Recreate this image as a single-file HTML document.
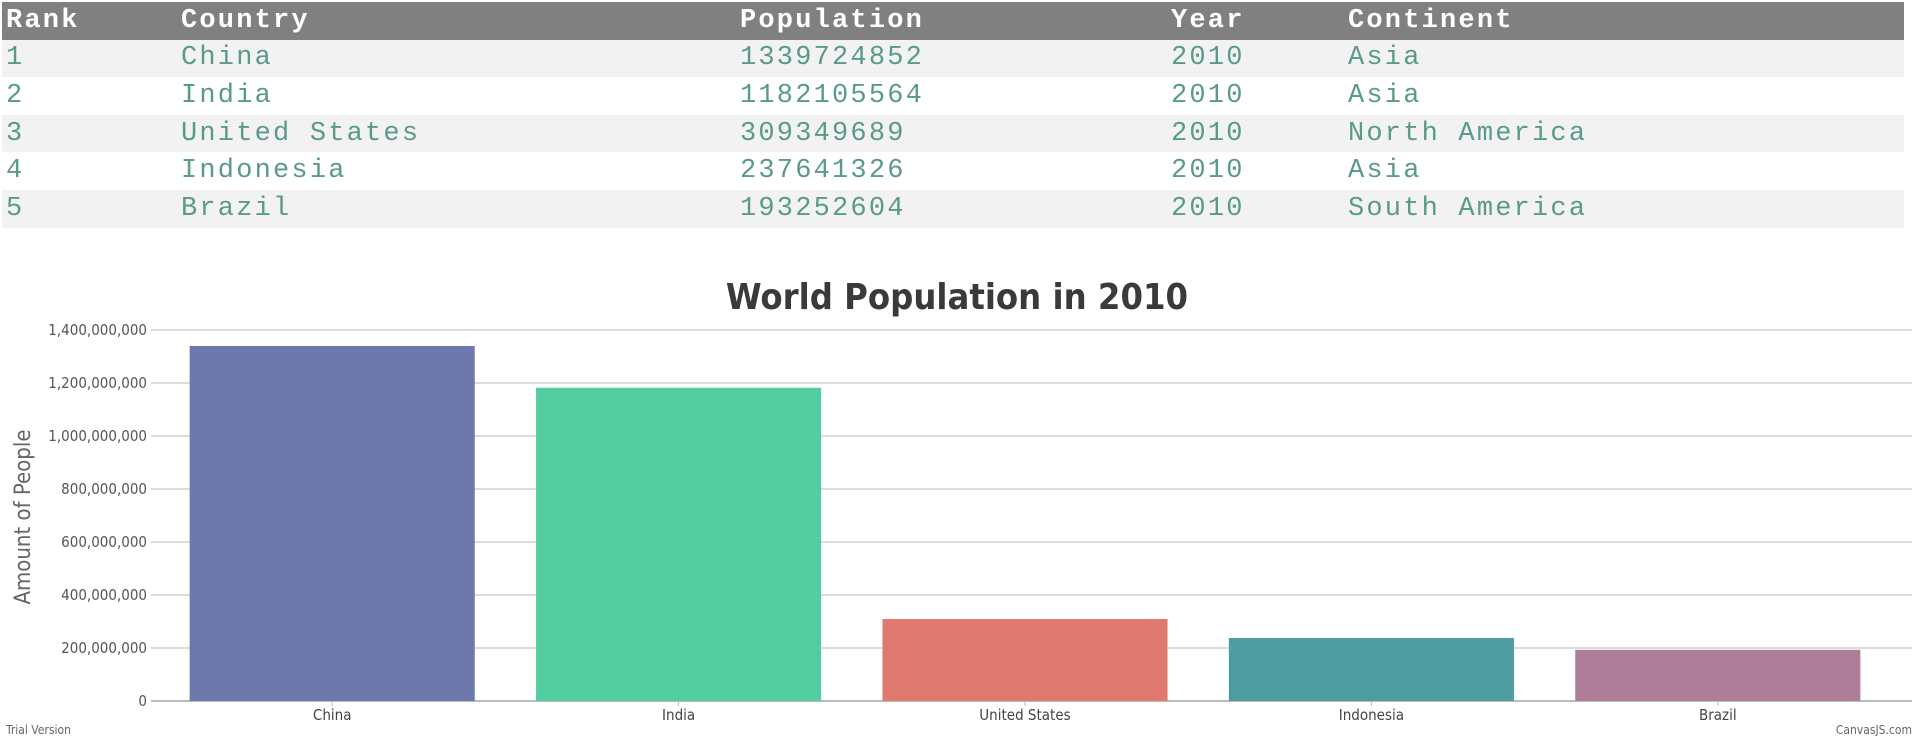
<!DOCTYPE html>
<html><head><meta charset="utf-8"><style>
html,body{margin:0;padding:0;background:#fff;width:1920px;height:736px;overflow:hidden}
table{position:absolute;left:2px;top:2px;width:1902px;border-collapse:collapse;font-family:"Liberation Mono",monospace;font-size:27px;letter-spacing:2.2px}
th,td{height:37.6px;padding:0 0 0 4px;text-align:left;white-space:nowrap}
th{background:#808080;color:#fff;font-weight:bold}
td{color:#5a9a8c}
tr:nth-child(odd) td{background:#f2f2f2}
#chart{position:absolute;left:0;top:0}
</style></head><body>
<table>
<thead><tr><th style="width:171px">Rank</th><th style="width:555px">Country</th><th style="width:427px">Population</th><th style="width:173px">Year</th><th>Continent</th></tr></thead>
<tbody>
<tr><td>1</td><td>China</td><td>1339724852</td><td>2010</td><td>Asia</td></tr>
<tr><td>2</td><td>India</td><td>1182105564</td><td>2010</td><td>Asia</td></tr>
<tr><td>3</td><td>United States</td><td>309349689</td><td>2010</td><td>North America</td></tr>
<tr><td>4</td><td>Indonesia</td><td>237641326</td><td>2010</td><td>Asia</td></tr>
<tr><td>5</td><td>Brazil</td><td>193252604</td><td>2010</td><td>South America</td></tr>
</tbody></table>
<svg id="chart" width="1920" height="736" font-family="'DejaVu Sans Condensed','Liberation Sans',sans-serif">
<text x="957" y="309" text-anchor="middle" font-size="36" font-weight="bold" fill="#3a3a3a">World Population in 2010</text>
<text transform="translate(30,517) rotate(-90)" text-anchor="middle" font-size="22" fill="#666">Amount of People</text>
<g id="grid"></g><g id="bars"></g><g id="xl"></g>
<text x="6" y="734" font-size="12" fill="#666">Trial Version</text>
<text x="1912" y="734" text-anchor="end" font-size="12" fill="#666">CanvasJS.com</text>
</svg>
<script>
const categories=["China","India","United States","Indonesia","Brazil"];
const values=[1339724852,1182105564,309349689,237641326,193252604];
const colors=["#6D78AD","#51CDA0","#DF7970","#4C9CA0","#AE7D99"];
const ticks=[0,200000000,400000000,600000000,800000000,1000000000,1200000000,1400000000];
const NS="http://www.w3.org/2000/svg";
const L=159,R=1891,Y0=701,Y1=330,YMAX=1400000000;
const y=v=>Y0-(v/YMAX)*(Y0-Y1);
const band=(R-L)/categories.length;
const xc=i=>L+band*(i+0.5);
function mk(t,a,p){const e=document.createElementNS(NS,t);for(const k in a)e.setAttribute(k,a[k]);p.appendChild(e);return e;}
const g=document.getElementById('grid');
ticks.forEach(t=>{
 const ln=mk('line',{x1:L-8,x2:1912,y1:y(t),y2:y(t),stroke:t===0?'#bbb':'#d0d0d0','stroke-width':t===0?2:1.5},g);
 
 
 const tx=mk('text',{x:L-12,y:y(t)+5,'text-anchor':'end','font-size':15,fill:'#555'},g);
 tx.textContent=t.toLocaleString('en-US');
 
 
});
const b=document.getElementById('bars'),xl=document.getElementById('xl');
values.forEach((v,i)=>{
 const w=band*0.823;
 const r=mk('rect',{x:xc(i)-w/2,y:y(v),width:w,height:Y0-y(v),fill:colors[i]},b);
 
 
 mk('line',{x1:xc(i),x2:xc(i),y1:Y0,y2:Y0+5,stroke:'#bbb'},xl);
 const t=mk('text',{x:xc(i),y:Y0+19,'text-anchor':'middle','font-size':15,fill:'#444'},xl);
 t.textContent=categories[i];
 
 
});
</script>
</body></html>
